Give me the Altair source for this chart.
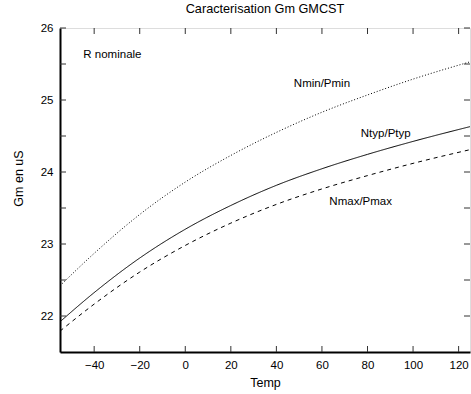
import altair as alt
import pandas as pd

temps = [-55, -40, -20, 0, 20, 40, 60, 80, 100, 125]
nmin = [22.42, 22.87, 23.41, 23.86, 24.23, 24.55, 24.83, 25.07, 25.29, 25.53]
ntyp = [21.92, 22.325, 22.805, 23.205, 23.535, 23.815, 24.045, 24.245, 24.425, 24.63]
nmax = [21.79, 22.165, 22.61, 22.98, 23.29, 23.55, 23.765, 23.95, 24.12, 24.31]

series_names = ["Nmin/Pmin", "Ntyp/Ptyp", "Nmax/Pmax"]

label_text = ["R nominale", "Nmin/Pmin", "Ntyp/Ptyp", "Nmax/Pmax"]
label_x = [-32, 60, 88, 77]
label_y = [25.63, 25.22, 24.53, 23.58]

x_ticks = [-40, -20, 0, 20, 40, 60, 80, 100, 120]
y_ticks = [22, 22.5, 23, 23.5, 24, 24.5, 25, 25.5, 26]
y_labels = [22, 23, 24, 25, 26]

rows = []
for name, vals in zip(series_names, [nmin, ntyp, nmax]):
    for t, v in zip(temps, vals):
        rows.append({"Temp": t, "Gm": v, "serie": name})
df = pd.DataFrame(rows)

W, H = 410, 324
FONT = "Liberation Sans"

xscale = alt.Scale(domain=[-55, 125], nice=False, zero=False)
yscale = alt.Scale(domain=[21.5, 26], nice=False, zero=False)

lines = alt.Chart(df).mark_line(color="black", strokeWidth=1, interpolate="monotone", clip=True).encode(
    x=alt.X("Temp:Q", scale=xscale,
            axis=alt.Axis(title="Temp", values=x_ticks, ticks=False, tickSize=0, grid=False,
                          labelPadding=7, titlePadding=6, domainColor="black", domainWidth=2,
                          labelFont=FONT, labelFontSize=11.5, labelColor="black",
                          titleFont=FONT, titleFontSize=12.5, titleFontWeight="normal", titleColor="black")),
    y=alt.Y("Gm:Q", scale=yscale,
            axis=alt.Axis(title="Gm en uS", values=y_labels, format="d", ticks=False, tickSize=0, grid=False,
                          labelPadding=7, domainColor="black", domainWidth=2,
                          titleX=-42, titleY=150, titleBaseline="middle",
                          labelFont=FONT, labelFontSize=11.5, labelColor="black",
                          titleFont=FONT, titleFontSize=12.5, titleFontWeight="normal", titleColor="black")),
    strokeDash=alt.StrokeDash("serie:N", scale=alt.Scale(domain=series_names,
                                                         range=[[1, 2], [1, 0], [4, 4]]), legend=None),
    detail="serie:N",
)

lab_df = pd.DataFrame({"t": label_text, "x": label_x, "y": label_y})
labels = alt.Chart(lab_df).mark_text(font=FONT, fontSize=11.5, color="black", align="center", baseline="middle").encode(
    x=alt.X("x:Q", scale=xscale), y=alt.Y("y:Q", scale=yscale), text="t:N")

xt = pd.DataFrame({"v": x_ticks})
yt = pd.DataFrame({"v": y_ticks})
tick_color = "#333333"
xbot = alt.Chart(xt).mark_rule(color=tick_color, strokeWidth=1).encode(
    x=alt.X("v:Q", scale=xscale), y=alt.value(H), y2=alt.value(H - 6))
xtop = alt.Chart(xt).mark_rule(color=tick_color, strokeWidth=1).encode(
    x=alt.X("v:Q", scale=xscale), y=alt.value(0), y2=alt.value(6))
yleft = alt.Chart(yt).mark_rule(color=tick_color, strokeWidth=1).encode(
    y=alt.Y("v:Q", scale=yscale), x=alt.value(0), x2=alt.value(6))
yright = alt.Chart(yt).mark_rule(color=tick_color, strokeWidth=1).encode(
    y=alt.Y("v:Q", scale=yscale), x=alt.value(W), x2=alt.value(W - 6))

chart = alt.layer(lines, labels, xbot, xtop, yleft, yright).properties(
    width=W, height=H,
    title=alt.Title("Caracterisation Gm GMCST", font=FONT, fontSize=12.7, fontWeight="normal",
                    color="black", anchor="middle", offset=6),
    autosize=alt.AutoSizeParams(type="none"),
    padding={"left": 60, "top": 28, "right": 1, "bottom": 42},
).configure_view(stroke="black", strokeWidth=1.5).configure(background="white")

chart.save("out.html", embed_options={"renderer": "svg", "actions": False})
